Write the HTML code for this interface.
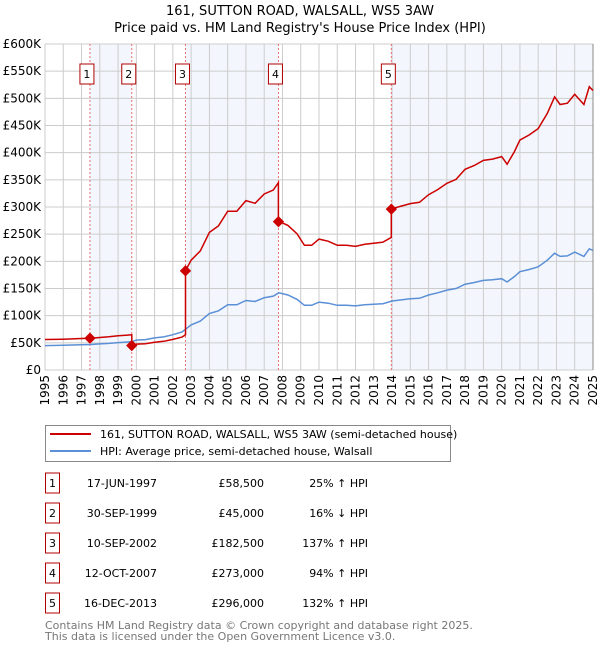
<!DOCTYPE html>
<html><head><meta charset="utf-8"><style>
body{margin:0;background:#fff;font-family:"DejaVu Sans","Liberation Sans",sans-serif;}
#wrap{position:relative;width:600px;height:650px;overflow:hidden;}
svg text{font-family:"DejaVu Sans","Liberation Sans",sans-serif;}
.xl{position:absolute;font-size:12px;line-height:12px;white-space:nowrap;writing-mode:vertical-rl;writing-mode:sideways-lr;}
</style></head><body>
<div id="wrap">
<svg id="c" width="600" height="650" xmlns="http://www.w3.org/2000/svg" style="position:absolute;left:0;top:0">
<text x="300" y="15" text-anchor="middle" font-size="13">161, SUTTON ROAD, WALSALL, WS5 3AW</text>
<text x="300" y="32" text-anchor="middle" font-size="13">Price paid vs. HM Land Registry's House Price Index (HPI)</text>
<g id="plot"></g>
<g>
<rect x="45.5" y="425.5" width="405" height="36" fill="#fff" stroke="#888"/>
<line x1="50" y1="434" x2="91" y2="434" stroke="#cc0000" stroke-width="2"/>
<text x="100" y="438" font-size="11">161, SUTTON ROAD, WALSALL, WS5 3AW (semi-detached house)</text>
<line x1="50" y1="451" x2="91" y2="451" stroke="#5b8fd6" stroke-width="2"/>
<text x="100" y="455" font-size="11">HPI: Average price, semi-detached house, Walsall</text>
</g>
<g id="table" font-size="11"></g>
<text x="45" y="629" font-size="11" fill="#777">Contains HM Land Registry data © Crown copyright and database right 2025.</text>
<text x="45" y="640" font-size="11" fill="#777">This data is licensed under the Open Government Licence v3.0.</text>
</svg>
</div>
<script>
const hpiYears=[1995,1996,1997,1997.5,1998,1998.5,1999,1999.75,2000,2000.5,2001,2001.5,2002,2002.5,2003,2003.5,2004,2004.5,2005,2005.5,2006,2006.5,2007,2007.5,2007.8,2008.3,2008.8,2009.2,2009.6,2010,2010.5,2011,2011.5,2012,2012.5,2013,2013.5,2014,2014.5,2015,2015.5,2016,2016.5,2017,2017.5,2018,2018.5,2019,2019.5,2020,2020.3,2020.7,2021,2021.5,2022,2022.5,2022.9,2023.2,2023.6,2024,2024.5,2024.8,2025];
const hpiValues=[45,45.5,46.5,47,48,49,50.5,52,55,56,59,61,65,70,83,90,104,109,120,120,128,126,133,136,142,138,130,119,119,125,123,119,119,118,120,121,122,127,129,131,132,138,142,147,150,158,161,165,166,168,162,172,181,185,190,202,215,209,210,217,209,223,220];
const saleYears=[1997.46,1999.75,2002.69,2007.78,2013.96];
const salePrices=[58.5,45,182.5,273,296];
const saleLabels=["1","2","3","4","5"];
const saleDates=["17-JUN-1997","30-SEP-1999","10-SEP-2002","12-OCT-2007","16-DEC-2013"];
const salePriceText=["£58,500","£45,000","£182,500","£273,000","£296,000"];
const saleHpiText=["25% ↑ HPI","16% ↓ HPI","137% ↑ HPI","94% ↑ HPI","132% ↑ HPI"];
const yTicks=[0,50,100,150,200,250,300,350,400,450,500,550,600];
const yTickLabels=["£0","£50K","£100K","£150K","£200K","£250K","£300K","£350K","£400K","£450K","£500K","£550K","£600K"];
const xTicks=[1995,1996,1997,1998,1999,2000,2001,2002,2003,2004,2005,2006,2007,2008,2009,2010,2011,2012,2013,2014,2015,2016,2017,2018,2019,2020,2021,2022,2023,2024,2025];

const L=45,R=593,T=44,B=370;
const X=y=>L+(y-1995)/30*(R-L);
const Y=v=>B-v/600*(B-T);
const NS="http://www.w3.org/2000/svg";
const g=document.getElementById('plot');
const wrap=document.getElementById('wrap');
function mk(t,a,p){const e=document.createElementNS(NS,t);for(const k in a)e.setAttribute(k,a[k]);(p||g).appendChild(e);return e;}
function hpiAt(t){for(let i=1;i<hpiYears.length;i++){if(t<=hpiYears[i]){const f=(t-hpiYears[i-1])/(hpiYears[i]-hpiYears[i-1]);return hpiValues[i-1]+f*(hpiValues[i]-hpiValues[i-1]);}}return hpiValues[hpiValues.length-1];}

for(let i=0;i<saleYears.length;i+=2){
 const x1=X(saleYears[i]),x2=i+1<saleYears.length?X(saleYears[i+1]):R;
 const s=mk('rect',{x:x1,y:T,width:x2-x1,height:B-T,fill:'#eef3fc',opacity:0.7});
 
 
}
yTicks.forEach((v,i)=>{
 mk('line',{x1:L,x2:R,y1:Y(v),y2:Y(v),stroke:'#ccc','stroke-width':1});
 const t=mk('text',{x:L-4,y:Y(v)+4,'text-anchor':'end','font-size':12});t.textContent=yTickLabels[i];
 
 
});
xTicks.forEach(yr=>{
 mk('line',{x1:X(yr),x2:X(yr),y1:T,y2:B,stroke:'#ccc','stroke-width':1});
 const dv=document.createElement('div');
 dv.className='xl';
 dv.textContent=yr;
 dv.style.left=(X(yr)-6)+'px';
 dv.style.top=(B+5)+'px';
 
 
 wrap.appendChild(dv);
});
mk('line',{x1:R,x2:R,y1:T,y2:B,stroke:'#888','stroke-width':1});
saleYears.forEach((s,i)=>{
 const l=mk('line',{x1:X(s),x2:X(s),y1:T,y2:B,stroke:'#e87070','stroke-width':1,'stroke-dasharray':'2,2'});
 
 
 const bx=X(s)-3;
 const r=mk('rect',{x:bx-7,y:64,width:14,height:20,fill:'#fff',stroke:'#b00000'});
 
 
 const t=mk('text',{x:bx,y:78,'text-anchor':'middle','font-size':11});t.textContent=saleLabels[i];
});
let d='';hpiYears.forEach((yr,i)=>{d+=(i?'L':'M')+X(yr).toFixed(1)+','+Y(hpiValues[i]).toFixed(1);});
const hp=mk('path',{d,fill:'none',stroke:'#5b8fd6','stroke-width':1.5});


let pts=[];
for(let s=0;s<saleYears.length;s++){
 const start=s==0?1995:saleYears[s], end=s+1<saleYears.length?saleYears[s+1]:2025;
 const ratio=salePrices[s]/hpiAt(saleYears[s]);
 const ts=[start].concat(hpiYears.filter(y=>y>start&&y<end)).concat([end]);
 ts.forEach(t=>pts.push([t,hpiAt(t)*ratio]));
}
let d2='';pts.forEach((p,i)=>{d2+=(i?'L':'M')+X(p[0]).toFixed(1)+','+Y(p[1]).toFixed(1);});
const pp=mk('path',{d:d2,fill:'none',stroke:'#cc0000','stroke-width':1.5});


saleYears.forEach((s,i)=>{
 const c=mk('rect',{x:X(s)-4,y:Y(salePrices[i])-4,width:8,height:8,fill:'#cc0000',transform:`rotate(45 ${X(s)} ${Y(salePrices[i])})`});
 
 
});
const tb=document.getElementById('table');
saleYears.forEach((s,i)=>{
 const y=483+i*30;
 const r=mk('rect',{x:45.5,y:y-10,width:14,height:20,fill:'#fff',stroke:'#b00000'},tb);
 
 
 const t0=mk('text',{x:52.5,y:y+4,'text-anchor':'middle'},tb);t0.textContent=saleLabels[i];
 const t1=mk('text',{x:157,y:y+4,'text-anchor':'end'},tb);t1.textContent=saleDates[i];
 
 
 const t2=mk('text',{x:264,y:y+4,'text-anchor':'end'},tb);t2.textContent=salePriceText[i];
 
 
 const t3=mk('text',{x:368,y:y+4,'text-anchor':'end'},tb);t3.textContent=saleHpiText[i];
 
 
});
</script>
</body></html>
